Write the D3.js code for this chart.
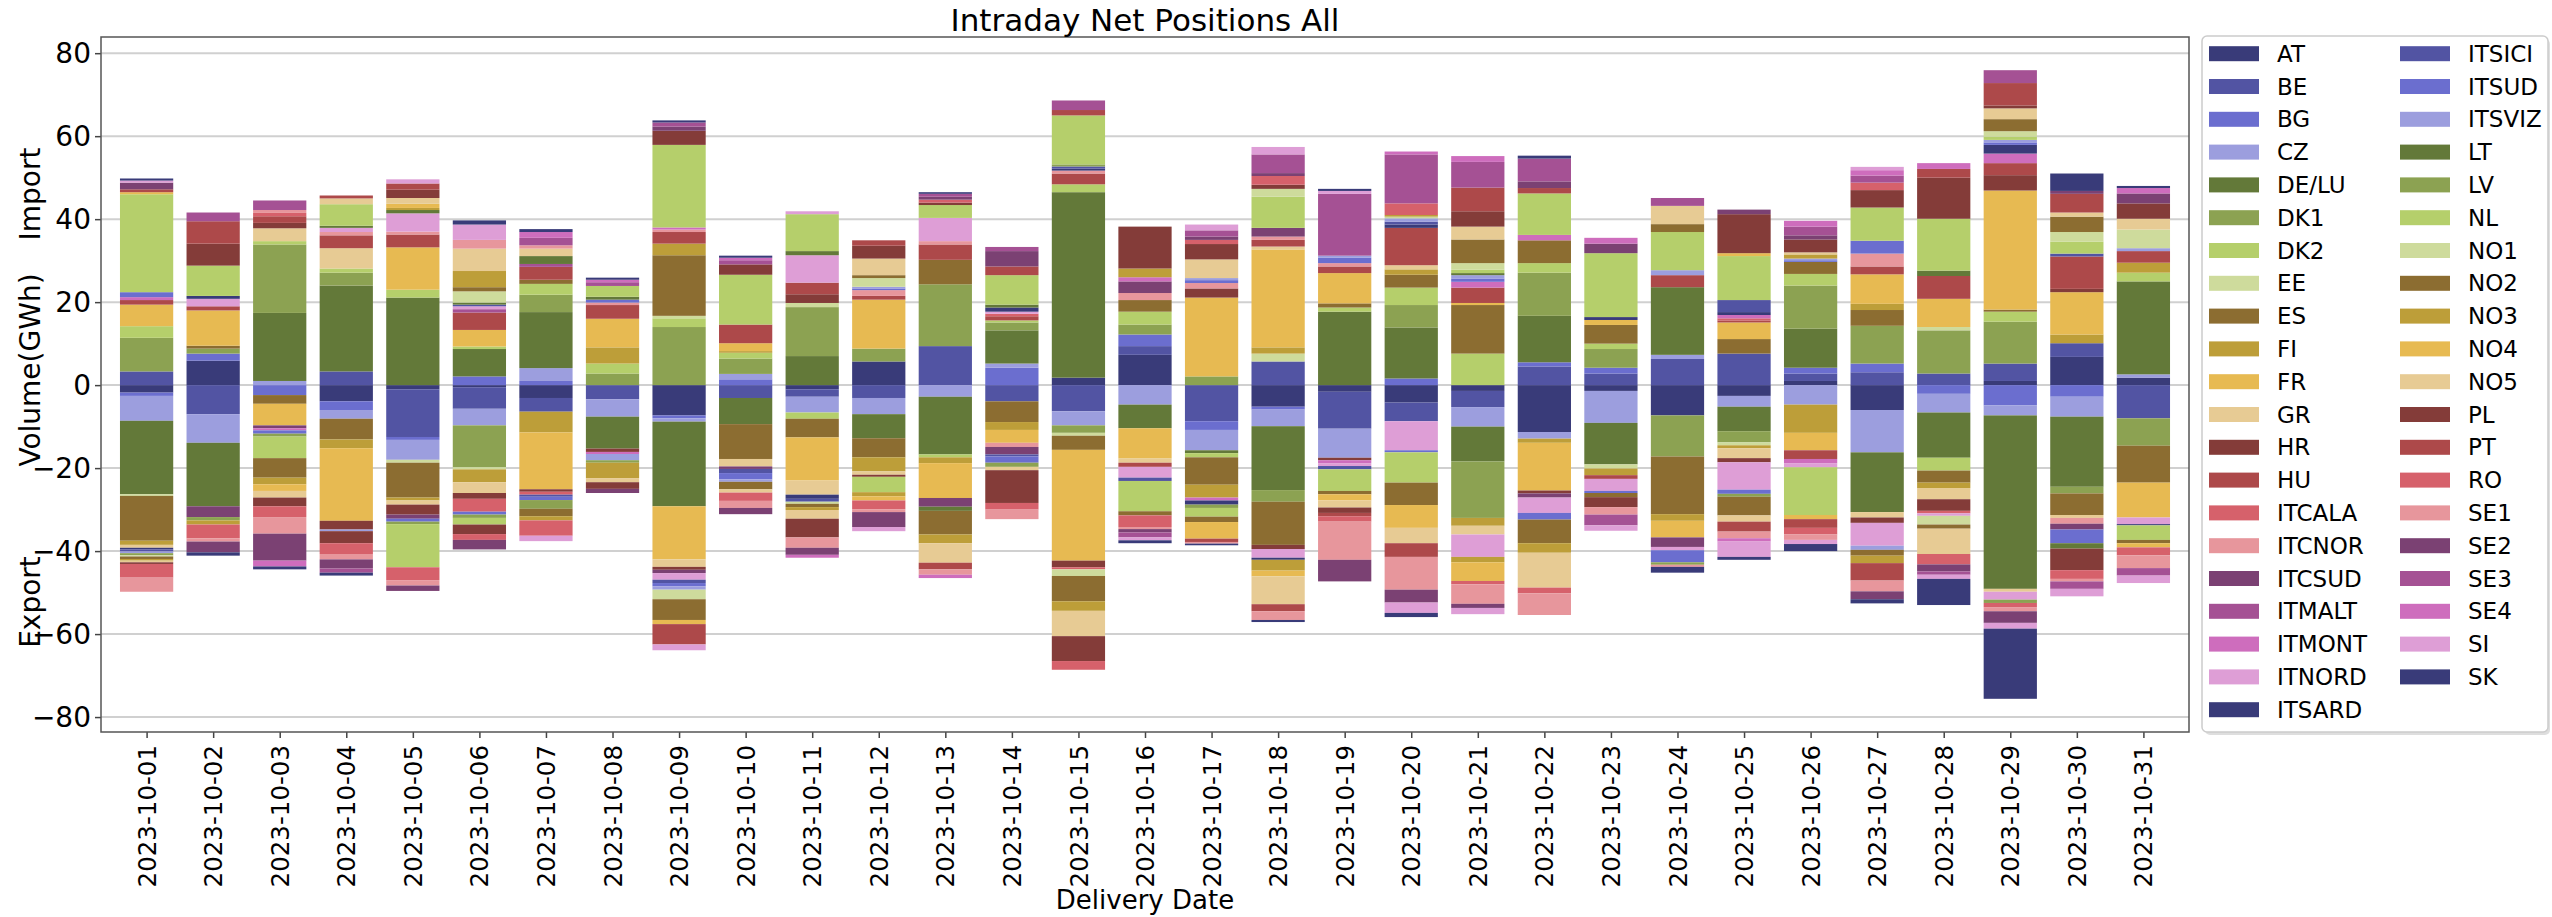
<!DOCTYPE html>
<html>
<head>
<meta charset="utf-8">
<script src="https://cdn.jsdelivr.net/npm/d3@7"></script>
<style>
 body { margin: 0; background: #fff; }
 text { font-family: "DejaVu Sans", sans-serif; fill: #000; }
</style>
</head>
<body>
<div id="chart"></div>
<script>
// delivery dates (x categories)
const dates = ["2023-10-01","2023-10-02","2023-10-03","2023-10-04","2023-10-05","2023-10-06","2023-10-07","2023-10-08",
 "2023-10-09","2023-10-10","2023-10-11","2023-10-12","2023-10-13","2023-10-14","2023-10-15","2023-10-16",
 "2023-10-17","2023-10-18","2023-10-19","2023-10-20","2023-10-21","2023-10-22","2023-10-23","2023-10-24",
 "2023-10-25","2023-10-26","2023-10-27","2023-10-28","2023-10-29","2023-10-30","2023-10-31"];

// net position per zone, GWh (positive = import, negative = export)
const AT     = [-1.8,5.9,0,-3.9,-1.0,-0.5,-3.1,0,-7.3,0,-1.0,5.7,0,0,1.8,7.3,0,-5.2,-1.6,-4.2,-1.4,-11.3,-1.4,-7.3,-2.6,1.0,-6.0,0,1.0,6.8,1.8];
const BE     = [3.3,-7.0,0,3.3,-11.5,-5.2,-3.3,-3.4,0,-3.1,-1.8,-3.1,9.4,-3.9,-6.3,2.1,-8.7,5.7,-8.9,-4.5,-3.9,4.5,2.8,6.3,7.6,1.8,3.1,2.8,4.2,3.3,-8.0];
const BG     = [-0.8,1.7,-2.4,-2.1,-0.7,2.1,1.0,0,-0.7,1.4,0,0,0,4.2,0,2.8,-2.1,-0.7,0,1.6,0,1.0,1.4,0,0,1.4,2.1,-2.1,-4.9,-2.8,0];
const CZ     = [-6.0,-6.9,1.0,-2.1,-4.8,-4.0,3.1,-4.2,-0.8,1.3,-3.8,-3.9,-2.8,1.0,-3.4,-4.7,-4.9,-4.0,-7.0,0,-4.7,-1.6,-7.7,1.0,-2.6,-4.7,-10.2,-4.5,-2.4,-4.8,0.8];
const DE_LU  = [-17.7,-15.3,16.4,20.7,21.1,6.6,13.5,-7.7,-20.4,-6.3,7.0,-5.8,-13.9,8.0,44.7,-5.7,-0.7,-15.4,17.7,12.3,-8.4,11.2,-10.0,16.3,-5.9,9.4,-14.4,-10.9,-41.8,-16.9,22.4];
const DK1    = [8.1,1.2,16.5,3.1,0,-10.1,4.2,2.8,14.0,3.7,11.8,3.1,14.9,1.9,-1.8,2.4,2.1,-2.8,0,5.4,-13.6,10.4,4.5,-9.9,-2.7,10.4,9.1,10.4,10.1,-1.6,-6.6];
const DK2    = [2.8,0,0.8,1.0,1.9,0.6,2.6,2.4,2.1,1.4,-1.5,0,-0.7,0.5,1.9,3.1,-1.0,0,1.0,4.2,7.6,2.3,1.3,0,0,2.8,0,-3.1,2.4,0,2.1];
const EE     = [-0.4,0,0,0,-0.7,-0.5,0,0,0.6,0,1.0,0,0,0,-0.7,0,0,1.9,0,0,0,0,-1.0,0,-0.7,0,0,0.8,0,0,0];
const ES     = [-10.8,0.7,-2.1,-5.0,-8.4,0,1.0,0,14.6,-8.4,-4.5,-4.6,5.9,-5.0,-3.4,2.8,-6.6,-10.4,1.0,3.1,11.7,5.5,4.5,-13.9,3.5,2.9,3.8,-2.9,0.5,-5.2,-8.9];
const FI     = [-1.0,0,0,-2.1,-0.7,-3.1,-5.0,3.9,2.8,0.4,0,-3.4,-1.4,-1.9,0,0,-3.1,1.5,0,1.3,-1.9,-1.0,-1.6,-1.6,-0.7,-6.8,1.5,-1.3,0,2.1,2.4];
const FR     = [5.2,8.5,-5.2,-17.5,10.2,4.0,-13.7,6.9,-12.8,1.9,-10.4,11.8,-8.4,-3.1,-26.7,-7.3,19.0,23.6,7.3,0,0.5,-11.5,1.2,-4.0,4.0,-4.2,7.1,6.8,28.7,10.2,-8.4];
const GR     = [-0.7,0,3.1,4.9,-1.0,-2.6,0,0,-1.8,-1.8,-3.4,-0.8,0,0,0,-1.0,0,0.7,0,1.0,-2.1,0,0,0,-2.4,0,-1.3,-2.7,-0.7,-0.7,0];
const HR     = [0,0,1.3,-2.1,-2.4,-1.4,-0.6,-0.8,-0.7,0,2.1,-0.5,0,0,-1.6,0,2.2,-1.0,-0.6,0,0,-0.7,0,0,-1.0,0,-1.3,-2.8,3.7,0.8,0];
const HU     = [1.1,1.0,1.6,3.1,3.1,4.2,3.1,3.3,2.8,4.5,2.8,0.9,3.7,1.0,2.6,-1.0,0,1.6,1.6,9.0,3.7,0,-0.9,2.9,0.5,-2.1,1.9,5.5,2.9,7.8,2.8];
const ITCALA = [0,0,0.8,0,0,-3.1,-0.7,0,0,0,0,0,0,0.6,-0.5,0,0,0,0,0,0,0,0,0,0.5,0,0,-0.6,0,0,0];
const ITCNOR = [0,0,0.7,0.8,0.7,0,0,0.6,0.6,0,0,1.4,0.8,-1.0,0.7,1.7,1.3,0.8,0.8,0,0,0,0,0,0,0,3.1,0,0,-1.4,0];
const ITCSUD = [0,-2.6,-0.7,0,-1.0,0,0,0,-0.8,-0.6,0,0,-2.1,-1.8,0,2.8,0,2.1,0,0,0,-1.0,0,-2.3,0,0,0,0,0,-1.4,0];
const ITMALT = [0,0,2.3,0,0,0.8,0.7,0,0,0,0,0,0,0,0,0,0,0,0,0,0,0,0,0,0,0,0,0,0,0,0];
const ITMONT = [0.7,0,-0.5,0,0,0,0,-0.5,0.5,0,0,0,0,0,0,1.0,-0.7,0,-0.7,0,1.4,1.3,0,0,0.8,-1.0,0,0,2.3,0,0];
const ITNORD = [0,1.8,0,1.0,4.4,0.7,0,0,-1.6,0,6.6,0,5.6,0.5,0,-2.6,0,-2.1,-0.7,-7.0,-5.4,-3.7,-2.9,-0.8,-6.6,-1.0,-5.5,-0.6,-1.9,0,-1.6];
const ITSARD = [-0.4,0.7,0,0,0,0,0,0,0,0,-1.0,0,0,1.0,0.5,0,-1.0,-0.5,0,0.8,0,0,0.7,0,0.7,0,0,0,2.1,0,-0.3];
const ITSICI = [-0.5,0,0,0,0,0.4,-0.5,0,-0.8,-1.0,-0.7,0,0,-0.5,0.5,-0.8,0,0,-0.8,0.7,0,0,0,0,2.9,0,0,0,0,0.7,0];
const ITSUD  = [1.2,0,-0.8,0,-0.7,-0.7,-0.8,0.7,-0.8,-1.5,0,0.4,0,-1.5,0,0,0.7,0,1.3,-0.5,0.8,-1.6,-0.5,-2.9,-1.0,0.4,3.1,0,0.6,-3.3,0];
const ITSVIZ = [-0.4,0,0,-0.4,0,0,0,-1.5,-0.8,-0.6,0,0.4,0,0,0,0,0.5,0,0.5,0.8,0.8,0,0,1.2,0,0.4,-1.0,0,0.6,0,0.7];
const LT     = [0,0,0,0.5,0.8,0.5,1.9,0.7,0,0,1.0,0,-1.0,0.7,0,0,0,0,0,0,0.5,0,0,0,0,0,0,1.3,0,-1.3,0];
const LV     = [-0.5,-0.8,-0.7,0,-0.6,-0.8,-2.1,-0.6,0,0,0,0,0,-1.0,0.5,0,-0.8,0,0,0,0,0,0,-0.6,-0.7,0,0,0,-0.8,0,0];
const NL     = [23.6,7.3,-5.2,5.2,-10.4,-1.6,0,2.6,19.9,12.0,8.9,-3.7,3.1,7.1,11.8,-7.3,-2.1,7.5,-5.2,-7.3,0.8,10.0,15.4,9.2,10.6,-11.5,8.0,12.5,0.8,2.9,-3.5];
const NO1    = [-0.3,0,0,0,0,2.7,0,0,-2.3,0,-0.5,2.1,0,0,-1.6,0,0,1.9,0,0.4,1.6,0,0,0,0,0,0,-2.1,1.3,2.3,4.5];
const NO2    = [-0.6,0,-4.7,0,0,1.0,-1.8,0,-5.0,-1.8,-0.8,0.7,-5.7,0,-6.1,-1.0,-1.3,0,-0.8,-5.4,5.7,-5.7,-1.0,1.9,-4.5,0,-1.4,-1.0,2.9,3.7,-0.8];
const NO3    = [-0.4,-1.0,-1.6,0,0.5,3.9,-1.0,-3.7,0,0,-0.7,-1.0,-2.1,0,-2.3,2.1,0,-2.6,0,0.4,-1.3,-2.3,0,0,0,1.0,-1.8,0,0,0,0];
const NO4    = [0.5,0,-1.6,0,1.0,0,0,0,-1.0,0,0,-1.0,0,0,0,0,-4.0,-1.4,-1.5,-5.5,-4.5,0,0,0,0.7,-1.0,0,0,0,0,-1.0];
const NO5    = [-0.4,0,-1.6,1.4,1.4,5.4,1.8,-1.0,0,-0.8,-2.1,4.0,-4.7,-0.8,-6.1,0,4.5,-6.7,-1.7,-3.7,3.1,-8.4,0,4.4,-1.5,0.5,0,-6.1,2.6,1.0,2.6];
const PL     = [-0.4,5.3,-2.1,-2.9,2.0,-2.3,0,-1.6,3.4,2.5,-4.5,3.1,0.6,-7.9,-6.0,10.1,3.7,1.0,-1.3,0,3.7,0,-2.4,0,9.4,3.1,4.2,9.9,0.7,-5.2,3.7];
const PT     = [0.7,5.4,0,0.7,1.5,0,0,0,-4.9,0,0,1.3,-1.6,2.1,1.3,0,-0.8,-1.7,-0.8,-3.3,5.7,1.3,0,0,-2.4,-2.1,-4.2,2.1,5.4,4.5,0];
const RO     = [-3.3,-3.3,-2.6,-2.6,-3.1,-1.4,-3.7,0,0,-2.0,0,-2.1,0.7,-1.6,-2.1,-2.8,1.0,2.1,-1.3,2.8,-0.8,-1.4,0,0,0,-1.6,1.8,-2.5,-1.0,-2.1,-1.9];
const SE1    = [-3.4,-0.8,-4.0,-1.3,-1.3,2.1,0.8,0,0,-1.7,-2.5,-0.7,-1.3,-2.3,0,-0.5,-0.4,-2.1,-9.2,-7.9,-4.7,-5.2,-1.8,-0.5,-1.6,-1.3,-2.6,0,-1.0,-0.6,-3.1];
const SE2    = [1.6,-2.6,-6.5,-2.2,-1.3,-2.3,0,-1.0,1.0,-1.5,-1.7,-3.6,0.7,3.7,0,-0.8,0.8,0.7,-5.2,-3.1,-1.0,1.6,2.3,0,1.1,1.0,-1.9,-1.7,-2.8,0.7,2.4];
const SE3    = [0,2.1,0,-1.0,0,0,1.8,0.9,1.0,1.0,0,0,0.7,1.0,2.3,-1.2,1.5,4.5,14.9,11.8,6.2,5.5,-2.6,1.9,0,2.1,1.7,-0.8,3.1,-1.8,-1.8];
const SE4    = [0,0,-1.4,0,0,0,1.4,0.6,0,0.6,-0.7,0,-0.8,0,0,0,0,0,0,0.7,1.4,0,1.4,0,-0.8,1.4,1.3,1.4,0,0,1.3];
const SI     = [0.5,0,0,0,1.0,3.7,-1.3,0,-1.4,0,0.7,-1.0,0,0,0,-0.7,1.4,1.8,0.7,-2.5,-1.5,0,-1.3,0,-3.7,-1.0,0.8,-1.0,-1.4,-1.8,-1.8];
const SK     = [0.5,-0.8,-0.7,-0.7,0,1.0,0.7,0.5,0.5,0.5,0,0,0.4,0,0,-0.7,-0.4,-0.5,0.5,-1.0,0,0.7,0,-1.4,-0.7,-1.7,-1.0,-6.3,-16.9,4.2,0.5];

const countries = ["AT","BE","BG","CZ","DE/LU","DK1","DK2","EE","ES","FI","FR","GR","HR","HU",
 "ITCALA","ITCNOR","ITCSUD","ITMALT","ITMONT","ITNORD","ITSARD","ITSICI","ITSUD","ITSVIZ",
 "LT","LV","NL","NO1","NO2","NO3","NO4","NO5","PL","PT","RO","SE1","SE2","SE3","SE4","SI","SK"];
const seriesValues = [AT,BE,BG,CZ,DE_LU,DK1,DK2,EE,ES,FI,FR,GR,HR,HU,ITCALA,ITCNOR,ITCSUD,ITMALT,ITMONT,ITNORD,
 ITSARD,ITSICI,ITSUD,ITSVIZ,LT,LV,NL,NO1,NO2,NO3,NO4,NO5,PL,PT,RO,SE1,SE2,SE3,SE4,SI,SK];
const yTicks = [-80,-60,-40,-20,0,20,40,60,80];

// tab20b, repeats every 20 zones
const palette = ["#393b79","#5254a3","#6b6ecf","#9c9ede","#637939","#8ca252","#b5cf6b","#cedb9c",
 "#8c6d31","#bd9e39","#e7ba52","#e7cb94","#843c39","#ad494a","#d6616b","#e7969c",
 "#7b4173","#a55194","#ce6dbd","#de9ed6"];

var width = 2552, height = 917;
var margin = { left: 101, right: 2189, top: 37, bottom: 732 };

var svg = d3.select("#chart").append("svg")
  .attr("width", width).attr("height", height);

var x = d3.scaleLinear().domain([-0.685, 30.685]).range([margin.left, margin.right]);
var y = d3.scaleLinear().domain([-83.6, 83.9]).range([margin.bottom, margin.top]);

// grid lines
svg.append("g").selectAll("line")
  .data(yTicks).enter().append("line")
  .attr("x1", margin.left).attr("x2", margin.right)
  .attr("y1", function(d) { return y(d); }).attr("y2", function(d) { return y(d); })
  .attr("stroke", "#d0d0d0").attr("stroke-width", 2);

// stack positives up and negatives down, in zone order
var segs = [];
dates.forEach(function(dt, i) {
  var up = 0, down = 0;
  seriesValues.forEach(function(vals, k) {
    var v = vals[i];
    if (!v) return;
    if (v > 0) { segs.push({ i: i, k: k, y0: up, y1: up + v }); up += v; }
    else { segs.push({ i: i, k: k, y0: down + v, y1: down }); down += v; }
  });
});

svg.append("g").selectAll("rect")
  .data(segs).enter().append("rect")
  .attr("x", function(d) { return x(d.i - 0.4); })
  .attr("width", x(0.4) - x(-0.4))
  .attr("y", function(d) { return y(d.y1); })
  .attr("height", function(d) { return y(d.y0) - y(d.y1); })
  .attr("fill", function(d) { return palette[d.k % 20]; });

// axes
var yAxis = svg.append("g")
  .attr("transform", "translate(" + margin.left + ",0)")
  .call(d3.axisLeft(y).tickValues(yTicks).tickSize(6).tickPadding(4));
var xAxis = svg.append("g")
  .attr("transform", "translate(0," + margin.bottom + ")")
  .call(d3.axisBottom(x).tickValues(d3.range(dates.length)).tickSize(6)
     .tickFormat(function(i) { return dates[i]; }));

yAxis.select(".domain").remove();
xAxis.select(".domain").remove();
svg.selectAll(".tick line").attr("stroke", "#444").attr("stroke-width", 1.5);
yAxis.selectAll("text").style("font-size", "28px");
xAxis.selectAll("text")
  .style("font-size", "24.5px")
  .style("text-anchor", "end")
  .attr("transform", "rotate(-90)")
  .attr("x", -13).attr("y", 0).attr("dy", "0.35em");

// frame
svg.append("rect")
  .attr("x", margin.left).attr("y", margin.top)
  .attr("width", margin.right - margin.left).attr("height", margin.bottom - margin.top)
  .attr("fill", "none").attr("stroke", "#555").attr("stroke-width", 1.5);

// labels
svg.append("text").attr("x", (margin.left + margin.right) / 2).attr("y", 31)
  .attr("text-anchor", "middle").style("font-size", "31px").text("Intraday Net Positions All");
svg.append("text").attr("x", (margin.left + margin.right) / 2).attr("y", 909)
  .attr("text-anchor", "middle").style("font-size", "26px").text("Delivery Date");

function yLabel(txt, cy) {
  svg.append("text").attr("transform", "translate(30," + cy + ") rotate(-90)")
    .attr("text-anchor", "middle").attr("dy", "0.35em")
    .style("font-size", "28px").text(txt);
}
yLabel("Volume(GWh)", 370);
yLabel("Import", 194);
yLabel("Export", 602);

// legend
var lg = svg.append("g");
lg.append("rect").attr("x", 2205).attr("y", 39).attr("width", 345).attr("height", 696)
  .attr("rx", 5).attr("fill", "#c8c8c8").attr("opacity", 0.6);
lg.append("rect").attr("x", 2202).attr("y", 36).attr("width", 346).attr("height", 696)
  .attr("rx", 5).attr("fill", "#fff").attr("stroke", "#cccccc").attr("stroke-width", 1.5);

countries.forEach(function(name, k) {
  var col = k < 21 ? 0 : 1;
  var row = col ? k - 21 : k;
  var cy = 53.7 + row * 32.8;
  var px = col ? 2400 : 2209;
  lg.append("rect").attr("x", px).attr("y", cy - 7.5).attr("width", 50).attr("height", 15)
    .attr("fill", palette[k % 20]);
  lg.append("text").attr("x", px + 68).attr("y", cy).attr("dy", "0.35em")
    .style("font-size", "23px").text(name);
});
</script>
</body>
</html>
